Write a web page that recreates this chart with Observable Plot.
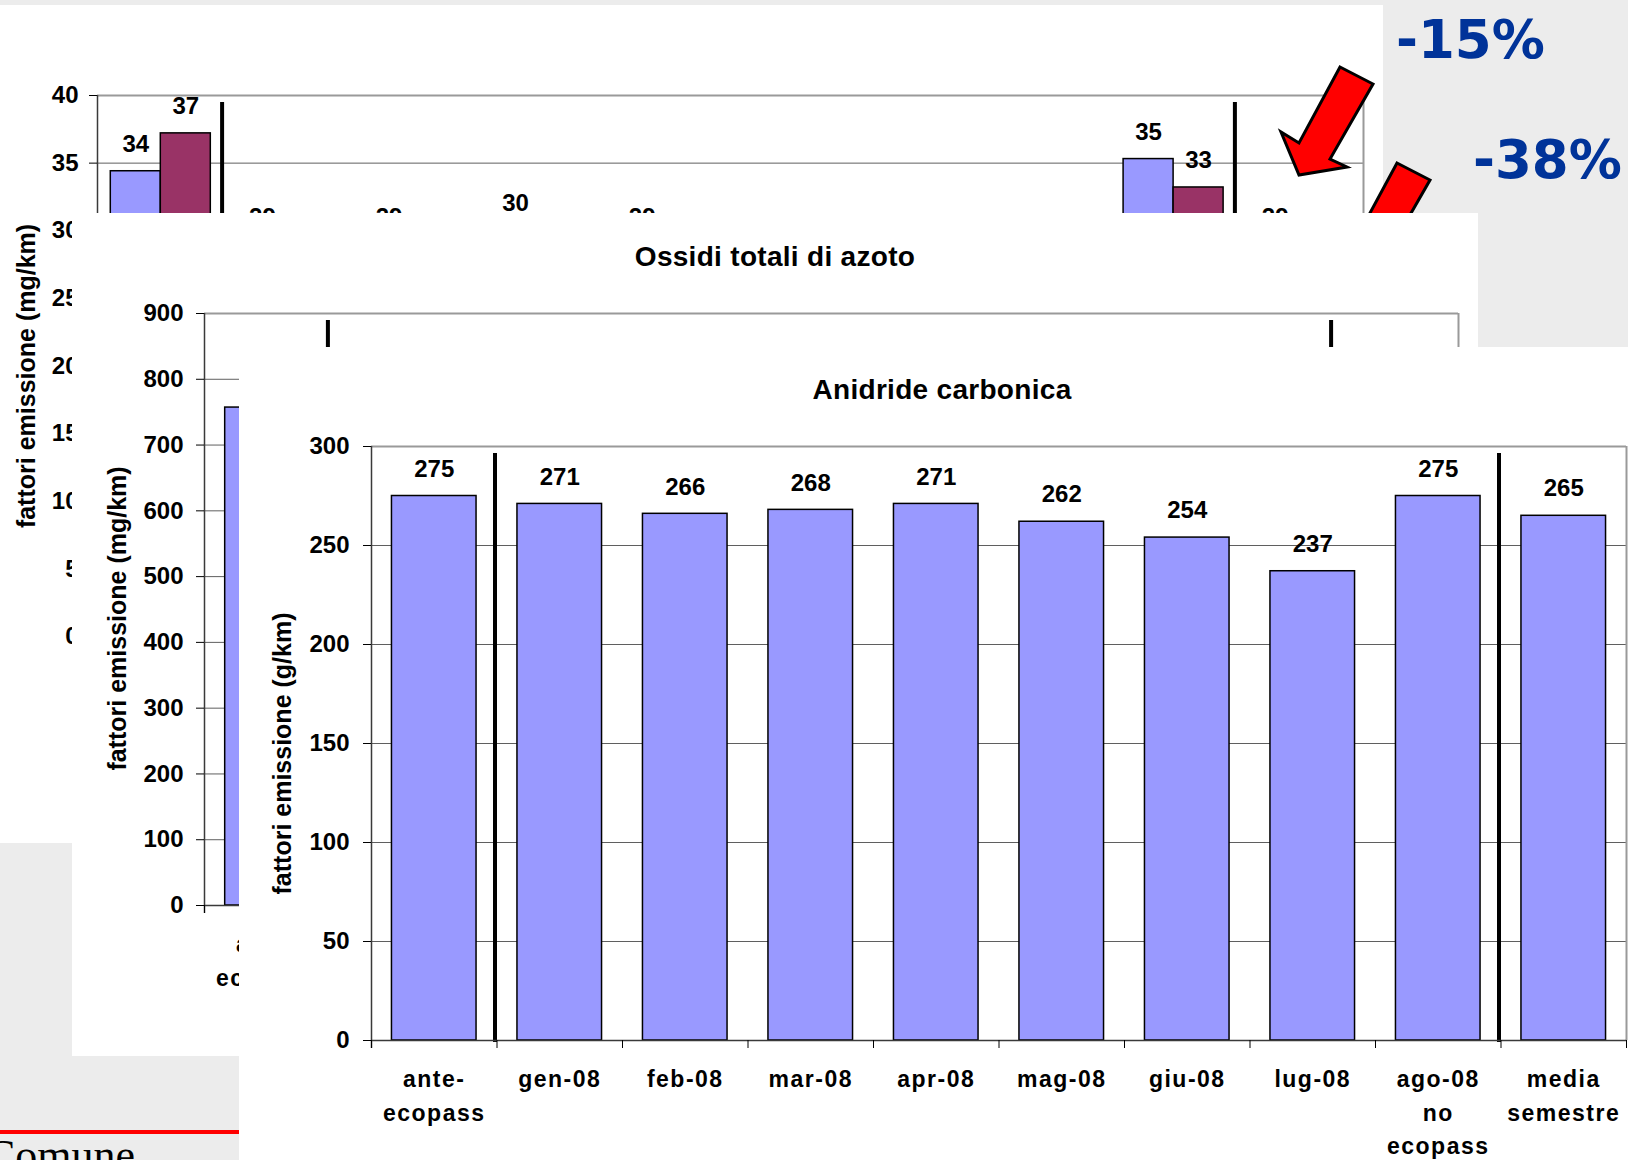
<!DOCTYPE html>
<html>
<head>
<meta charset="utf-8">
<script src="https://cdn.jsdelivr.net/npm/d3@7"></script>
<script src="https://cdn.jsdelivr.net/npm/@observablehq/plot@0.6"></script>
<style>
html, body { margin: 0; padding: 0; }
body { width: 1628px; height: 1160px; overflow: hidden; background: #ececec; position: relative; font-family: "Liberation Sans", Arial, Helvetica, sans-serif; }
.panel { position: absolute; background: #fff; overflow: hidden; }
.panel svg { display: block; max-width: none; background: transparent; }
.title { position: absolute; left: 0; width: 100%; text-align: center; font-weight: bold; font-size: 28px; line-height: 32px; letter-spacing: 0.3px; color: #000; }
.overlay { position: absolute; left: 0; top: 0; pointer-events: none; }
</style>
</head>
<body>
<svg class="overlay" id="under" width="1628" height="1160" style="z-index:1"></svg>
<div class="panel" id="pm" style="left:-35px; top:5px; width:1418px; height:838px; z-index:2"></div>
<svg class="overlay" id="arrows" width="1628" height="1160" style="z-index:3"></svg>
<div class="panel" id="nox" style="left:72px; top:213px; width:1406px; height:843px; z-index:4"></div>
<div class="panel" id="co2" style="left:239px; top:347px; width:1406px; height:843px; z-index:5"></div>
<svg class="overlay" id="top" width="1628" height="1160" style="z-index:6"></svg>
<script>
// ---------------- data ----------------
const categories = ["ante-\necopass", "gen-08", "feb-08", "mar-08", "apr-08", "mag-08", "giu-08", "lug-08", "ago-08\nno\necopass", "media\nsemestre"];
const co2Values = [275, 271, 266, 268, 271, 262, 254, 237, 275, 265];
const noxValues = [757, 640, 620, 625, 640, 610, 590, 550, 750, 621];
const pmSeriesA = [34.4, 29, 29, 30, 29, 28, 27, 25, 35.3, 29];
const pmSeriesB = [37.2, 24, 23, 24, 23, 22, 22, 20, 33.2, 23];
const co2Ticks = [0, 50, 100, 150, 200, 250, 300];
const noxTicks = [0, 100, 200, 300, 400, 500, 600, 700, 800, 900];
const pmTicks = [0, 5, 10, 15, 20, 25, 30, 35, 40];
const separators = [1, 9];
const titles = {nox: "Ossidi totali di azoto", co2: "Anidride carbonica"};
const yTitles = {pm: "fattori emissione (mg/km)", nox: "fattori emissione (mg/km)", co2: "fattori emissione (g/km)"};
const changes = ["-15%", "-38%"];
const footerText = "Comune";

// ---------------- chart builder ----------------
const FONT = '"Liberation Sans", Arial, Helvetica, sans-serif';
const BLUE = "#9999ff", MAROON = "#993366";
const fmt = d3.format(".0f");

function chart(o) {
  const n = categories.length;
  const yMax = o.ticks[o.ticks.length - 1];
  const rows = categories.map((c, i) => ({i, c, a: o.a[i], b: o.b ? o.b[i] : null}));
  const marks = [
    Plot.ruleY(o.ticks.filter(t => t > 0 && t < yMax), {stroke: "#5f5f5f", strokeWidth: 1}),
    Plot.ruleY([yMax], {stroke: "#9a9a9a", strokeWidth: 2}),
    Plot.ruleX([n], {stroke: "#9a9a9a", strokeWidth: 2})
  ];
  if (o.b) {
    const mid = 0.5;
    marks.push(
      Plot.rect(rows, {x1: d => d.i + o.pad, x2: d => d.i + mid, y1: 0, y2: "a", fill: BLUE, stroke: "#000", strokeWidth: 1.5}),
      Plot.rect(rows, {x1: d => d.i + mid, x2: d => d.i + 1 - o.pad, y1: 0, y2: "b", fill: MAROON, stroke: "#000", strokeWidth: 1.5}),
      Plot.text(rows, {x: d => d.i + (o.pad + mid) / 2, y: "a", text: d => fmt(d.a), dy: -27}),
      Plot.text(rows, {x: d => d.i + (mid + 1 - o.pad) / 2, y: "b", text: d => fmt(d.b), dy: -27})
    );
  } else {
    marks.push(
      Plot.rect(rows, {x1: d => d.i + o.pad, x2: d => d.i + 1 - o.pad, y1: 0, y2: "a", fill: BLUE, stroke: "#000", strokeWidth: 1.5}),
      Plot.text(rows, {x: d => d.i + 0.5, y: "a", text: d => fmt(d.a), dy: -27})
    );
  }
  marks.push(
    Plot.ruleX(separators, {y1: 0, y2: yMax, stroke: "#000", strokeWidth: 4, insetTop: 2, insetBottom: -7, dx: -2}),
    Plot.ruleX([0], {stroke: "#3a3a3a", strokeWidth: 1.5, insetBottom: -8}),
    Plot.ruleY([0], {stroke: "#3a3a3a", strokeWidth: 1.5}),
    Plot.axisY({ticks: o.ticks, tickSize: 8, tickPadding: o.tickPadding, tickFormat: d => String(d), label: null}),
    Plot.axisX({ticks: d3.range(n + 1), tickSize: 8, tickFormat: () => "", label: null}),
    Plot.text(rows, {x: d => d.i + 0.5, text: "c", frameAnchor: "bottom", lineAnchor: "top", dy: 23, lineHeight: 1.45, fontSize: 23}),
    Plot.text([o.yTitle], {text: d => d, frameAnchor: "left", textAnchor: "middle", rotate: -90, dx: o.titleDx, dy: o.titleDy, fontSize: 25})
  );
  const svg = Plot.plot({
    width: o.width, height: o.height,
    marginLeft: o.mL, marginRight: o.mR, marginTop: o.mT, marginBottom: o.mB,
    x: {domain: [0, n], label: null},
    y: {domain: [0, yMax], label: null},
    style: {fontFamily: FONT, fontSize: "24px", fontWeight: "bold", color: "#000", background: "transparent", overflow: "visible", maxWidth: "none"},
    marks
  });
  d3.select(svg).selectAll('g[font-size="23"]').attr("letter-spacing", "1.5px");
  return svg;
}

// ---------------- panels ----------------
const pmEl = document.getElementById("pm");
pmEl.appendChild(chart({
  a: pmSeriesA, b: pmSeriesB, ticks: pmTicks, pad: 0.105,
  width: 1418, height: 838, mL: 132, mR: 20, mT: 90, mB: 207,
  tickPadding: 11, yTitle: yTitles.pm, titleDx: -71, titleDy: 10
}));

const noxEl = document.getElementById("nox");
noxEl.appendChild(chart({
  a: noxValues, ticks: noxTicks, pad: 0.165,
  width: 1406, height: 843, mL: 132, mR: 20, mT: 100, mB: 151,
  tickPadding: 13, yTitle: yTitles.nox, titleDx: -87, titleDy: 9
}));
const noxTitle = document.createElement("div");
noxTitle.className = "title"; noxTitle.style.top = "28px"; noxTitle.textContent = titles.nox;
noxEl.appendChild(noxTitle);

const co2El = document.getElementById("co2");
co2El.appendChild(chart({
  a: co2Values, ticks: co2Ticks, pad: 0.163,
  width: 1406, height: 843, mL: 132, mR: 19, mT: 99, mB: 150,
  tickPadding: 14, yTitle: yTitles.co2, titleDx: -89, titleDy: 10
}));
const co2Title = document.createElement("div");
co2Title.className = "title"; co2Title.style.top = "27px"; co2Title.textContent = titles.co2;
co2El.appendChild(co2Title);

// ---------------- decorations ----------------
const under = d3.select("#under");
under.append("rect").attr("x", 0).attr("y", 1130).attr("width", 240).attr("height", 4).attr("fill", "#ff0000");
under.append("text").attr("x", -14).attr("y", 1170)
  .attr("font-family", '"Liberation Serif", "Times New Roman", serif').attr("font-size", 44).attr("fill", "#000")
  .text(footerText);

const arrowShape = [[1340, 67], [1373, 84], [1330, 159], [1347, 167], [1299, 175], [1281, 132], [1299, 143]];
const arrowOffsets = [[0, 0], [57, 96]];
const arrows = d3.select("#arrows");
arrowOffsets.forEach(([ox, oy]) => {
  arrows.append("polygon")
    .attr("points", arrowShape.map(([x, y]) => `${x + ox},${y + oy}`).join(" "))
    .attr("fill", "#ff0000").attr("stroke", "#000").attr("stroke-width", 3).attr("stroke-linejoin", "miter");
});

const topSvg = d3.select("#top");
const pctPos = [[1396, 58], [1473, 178]];
changes.forEach((t, i) => {
  topSvg.append("text").attr("x", pctPos[i][0]).attr("y", pctPos[i][1])
    .attr("font-family", '"DejaVu Sans", Verdana, sans-serif').attr("font-weight", "bold").attr("font-size", 53)
    .attr("fill", "#003399").text(t);
});
</script>
</body>
</html>
